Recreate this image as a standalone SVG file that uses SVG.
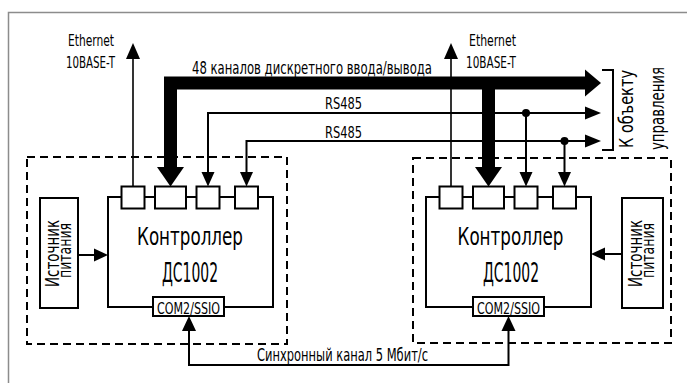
<svg xmlns="http://www.w3.org/2000/svg" width="687" height="383" viewBox="0 0 687 383">
<style>
text { font-family: "Liberation Sans Narrow","DejaVu Sans Condensed","Liberation Sans",sans-serif; fill:#000; }
.frame { fill:none; stroke:#8c8c8c; stroke-width:1.5 }
.dash { fill:none; stroke:#000; stroke-width:2; stroke-dasharray:8 5 }
.box { fill:#fff; stroke:#000; stroke-width:2 }
.ln { fill:none; stroke:#000; stroke-width:2 }
.thin { fill:none; stroke:#000; stroke-width:1.6 }
.thick { fill:none; stroke:#000; stroke-width:13 }
.ah { fill:#000; stroke:none }
.m { text-anchor:middle }
</style>
<rect x="0" y="0" width="687" height="383" fill="#fff"/>
<path class="frame" d="M8.5,390 V12.5 H690"/>

<g id="module-left">
<rect class="dash" x="27" y="157" width="260" height="187"/>
</g>
<g id="module-right">
<rect class="dash" x="413" y="158" width="258" height="185"/>
</g>

<g id="connectors">
<!-- Ethernet -->
<line class="thin" x1="133" y1="187" x2="133" y2="56"/>
<polygon class="ah" points="133,43 126,59 140,59"/>
<line class="thin" x1="451" y1="187" x2="451" y2="56"/>
<polygon class="ah" points="451,43 444,59 458,59"/>
<!-- thick bus -->
<path class="thick" d="M170.5,168 V83 H586"/>
<polygon class="ah" points="601,83 585,69.5 585,96.5"/>
<polygon class="ah" points="170.5,186.5 157,167 184,167"/>
<line class="thick" x1="488.5" y1="83" x2="488.5" y2="168"/>
<polygon class="ah" points="488.5,186.5 475,167 502,167"/>
<!-- RS485 lines -->
<path class="ln" d="M208,173 V113 H587"/>
<polygon class="ah" points="601,113 585,106.5 585,119.5"/>
<polygon class="ah" points="208,186.5 201.5,172 214.5,172"/>
<path class="ln" d="M246.5,173 V141 H587"/>
<polygon class="ah" points="601,141 585,134.5 585,147.5"/>
<polygon class="ah" points="246.5,186.5 240,172 253,172"/>
<circle cx="526" cy="113" r="4"/>
<line class="ln" x1="526" y1="113" x2="526" y2="173"/>
<polygon class="ah" points="526,186.5 519.5,172 532.5,172"/>
<circle cx="564.5" cy="141" r="4"/>
<line class="ln" x1="564.5" y1="141" x2="564.5" y2="173"/>
<polygon class="ah" points="564.5,186.5 558,172 571,172"/>
<!-- bracket -->
<path class="ln" d="M602,70 H613 V150 H602"/>
<!-- power arrows -->
<line class="ln" x1="78" y1="255" x2="96" y2="255"/>
<polygon class="ah" points="108,255 94,248.5 94,261.5"/>
<line class="ln" x1="622" y1="254" x2="603" y2="254"/>
<polygon class="ah" points="591,254 605,247.5 605,260.5"/>
<!-- sync channel -->
<path class="ln" d="M189,329 V365 H508.5 V329"/>
<polygon class="ah" points="189,316 182,331 196,331"/>
<polygon class="ah" points="508.5,316 501.5,331 515.5,331"/>
</g>

<g id="controller-left">
<rect class="box" x="108" y="197" width="165" height="110"/>
<rect class="box" x="121.5" y="186.5" width="23" height="22"/>
<rect class="box" x="155" y="186.5" width="31" height="22"/>
<rect class="box" x="196.5" y="186.5" width="23" height="22"/>
<rect class="box" x="235" y="186.5" width="23" height="22"/>
<text class="m" x="190" y="245" font-size="25" textLength="106" lengthAdjust="spacingAndGlyphs">Контроллер</text>
<text class="m" x="190" y="282" font-size="26" textLength="56" lengthAdjust="spacingAndGlyphs">ДС1002</text>
</g>
<g id="com-left">
<rect class="box" x="153" y="297" width="71" height="19"/>
<text class="m" x="188.5" y="313.5" font-size="16" textLength="63" lengthAdjust="spacingAndGlyphs">COM2/SSIO</text>
</g>

<g id="controller-right">
<rect class="box" x="426" y="197" width="165" height="110"/>
<rect class="box" x="439.5" y="186.5" width="23" height="22"/>
<rect class="box" x="473" y="186.5" width="31" height="22"/>
<rect class="box" x="514.5" y="186.5" width="23" height="22"/>
<rect class="box" x="553" y="186.5" width="23" height="22"/>
<text class="m" x="510.5" y="245" font-size="25" textLength="106" lengthAdjust="spacingAndGlyphs">Контроллер</text>
<text class="m" x="511" y="282" font-size="26" textLength="56" lengthAdjust="spacingAndGlyphs">ДС1002</text>
</g>
<g id="com-right">
<rect class="box" x="473" y="297" width="71" height="19"/>
<text class="m" x="508.5" y="313.5" font-size="16" textLength="63" lengthAdjust="spacingAndGlyphs">COM2/SSIO</text>
</g>

<g id="power-left">
<rect class="box" x="40" y="198" width="38" height="110"/>
<text class="m" transform="translate(58.5,253.5) rotate(-90)" font-size="19" textLength="67" lengthAdjust="spacingAndGlyphs">Источник</text>
<text class="m" transform="translate(70.5,250.5) rotate(-90)" font-size="18" textLength="55" lengthAdjust="spacingAndGlyphs">питания</text>
</g>
<g id="power-right">
<rect class="box" x="622" y="198" width="41" height="110"/>
<text class="m" transform="translate(641.5,253.5) rotate(-90)" font-size="19" textLength="67" lengthAdjust="spacingAndGlyphs">Источник</text>
<text class="m" transform="translate(654,250.5) rotate(-90)" font-size="18" textLength="55" lengthAdjust="spacingAndGlyphs">питания</text>
</g>

<g id="labels">
<text class="m" x="91" y="46" font-size="16" textLength="46" lengthAdjust="spacingAndGlyphs">Ethernet</text>
<text class="m" x="90.5" y="68" font-size="16" textLength="49" lengthAdjust="spacingAndGlyphs">10BASE-T</text>
<text class="m" x="492.5" y="46" font-size="16" textLength="47" lengthAdjust="spacingAndGlyphs">Ethernet</text>
<text class="m" x="491" y="68" font-size="16" textLength="50" lengthAdjust="spacingAndGlyphs">10BASE-T</text>
<text x="192" y="74" font-size="17" textLength="240" lengthAdjust="spacingAndGlyphs">48 каналов дискретного ввода/вывода</text>
<text x="325" y="109" font-size="16" textLength="37" lengthAdjust="spacingAndGlyphs">RS485</text>
<text x="325" y="138" font-size="16" textLength="37" lengthAdjust="spacingAndGlyphs">RS485</text>
<text x="257" y="361" font-size="17" textLength="171" lengthAdjust="spacingAndGlyphs">Синхронный канал 5 Мбит/с</text>
<text class="m" transform="translate(633,109) rotate(-90)" font-size="20" textLength="78" lengthAdjust="spacingAndGlyphs">К объекту</text>
<text class="m" transform="translate(664,108.5) rotate(-90)" font-size="20" textLength="83" lengthAdjust="spacingAndGlyphs">управления</text>
</g>
</svg>
